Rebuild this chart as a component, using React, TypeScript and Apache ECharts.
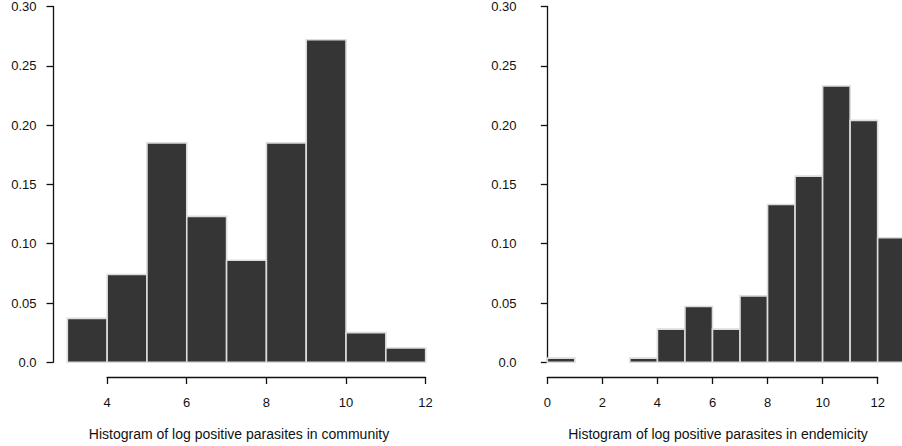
import React, { useEffect, useRef } from "react";
import * as echarts from "echarts";

// Left panel: histogram of log positive parasites in community
const leftBreaks = [3, 4, 5, 6, 7, 8, 9, 10, 11, 12];
const leftDensity = [0.037, 0.074, 0.185, 0.123, 0.086, 0.185, 0.272, 0.025, 0.012];

// Right panel: histogram of log positive parasites in endemicity
const rightBreaks = [0, 1, 2, 3, 4, 5, 6, 7, 8, 9, 10, 11, 12, 13];
const rightDensity = [0.0035, 0, 0, 0.0035, 0.028, 0.047, 0.028, 0.056, 0.133, 0.157, 0.233, 0.204, 0.105];

const yTicks = [0, 0.05, 0.1, 0.15, 0.2, 0.25, 0.3];
const leftXTicks = [4, 6, 8, 10, 12];
const rightXTicks = [0, 2, 4, 6, 8, 10, 12];

const leftTitle = "Histogram of log positive parasites in community";
const rightTitle = "Histogram of log positive parasites in endemicity";

const FONT = "'Liberation Sans', Arial, Helvetica, sans-serif";
const INK = "#111";

function binData(breaks: number[], dens: number[]) {
  return dens.map((d, i) => [breaks[i], breaks[i + 1], d]);
}

const renderBin = (params: any, api: any) => {
  const x0 = api.value(0);
  const x1 = api.value(1);
  const y = api.value(2);
  if (!y) return null;
  const p0 = api.coord([x0, y]);
  const p1 = api.coord([x1, 0]);
  return {
    type: "rect",
    shape: { x: p0[0], y: p0[1], width: p1[0] - p0[0], height: p1[1] - p0[1] },
    style: { fill: "#353535", stroke: "#dcdcdc", lineWidth: 1.6 },
  };
};

function yAxisCfg(gridIndex: number) {
  return {
    gridIndex,
    type: "value",
    min: yTicks[0],
    max: yTicks[yTicks.length - 1],
    interval: 0.05,
    splitLine: { show: false },
    axisLine: { show: true, lineStyle: { color: INK, width: 1.3 } },
    axisTick: { show: true, length: 6.5, lineStyle: { color: INK, width: 1.3 } },
    axisLabel: {
      show: true,
      margin: 16.5,
      color: INK,
      fontFamily: FONT,
      fontSize: 13,
      padding: [6, 0, 0, 0],
      formatter: (v: number) => (v === 0 ? "0.0" : v.toFixed(2)),
    },
  };
}

function xTickAxisCfg(gridIndex: number, ticks: number[]) {
  return {
    gridIndex,
    type: "value",
    min: ticks[0],
    max: ticks[ticks.length - 1],
    interval: 2,
    splitLine: { show: false },
    axisLine: { show: true, onZero: false, lineStyle: { color: INK, width: 1.3 } },
    axisTick: { show: true, length: 7, lineStyle: { color: INK, width: 1.3 } },
    axisLabel: { show: true, margin: 19, color: INK, fontFamily: FONT, fontSize: 13 },
  };
}

function hiddenX(gridIndex: number, min: number, max: number) {
  return {
    gridIndex,
    type: "value",
    min,
    max,
    show: false,
    splitLine: { show: false },
  };
}

function hiddenY(gridIndex: number) {
  return { gridIndex, type: "value", min: 0, max: 1, show: false, splitLine: { show: false } };
}

export default function App() {
  const ref = useRef<HTMLDivElement>(null);
  useEffect(() => {
    if (!ref.current) return;
    const chart = echarts.init(ref.current, undefined, { renderer: "svg" });
    const option: any = {
      animation: false,
      backgroundColor: "#ffffff",
      grid: [
        // bar plotting regions
        { left: 53, top: 5, width: 387, height: 357.3 },
        { left: 533, top: 5, width: 369, height: 357.3 },
        // x tick axes (R style, from first to last tick)
        { left: 107.1, top: 360, width: 318.5, height: 17 },
        { left: 547.3, top: 360, width: 330.4, height: 17 },
      ],
      xAxis: [
        hiddenX(0, 2.64, 12.36),
        hiddenX(1, -0.52, 12.884),
        xTickAxisCfg(2, leftXTicks),
        xTickAxisCfg(3, rightXTicks),
      ],
      yAxis: [yAxisCfg(0), yAxisCfg(1), hiddenY(2), hiddenY(3)],
      series: [
        {
          type: "custom",
          xAxisIndex: 0,
          yAxisIndex: 0,
          renderItem: renderBin,
          encode: { x: [0, 1], y: 2 },
          data: binData(leftBreaks, leftDensity),
          clip: false,
        },
        {
          type: "custom",
          xAxisIndex: 1,
          yAxisIndex: 1,
          renderItem: renderBin,
          encode: { x: [0, 1], y: 2 },
          data: binData(rightBreaks, rightDensity),
          clip: false,
        },
      ],
      graphic: [
        {
          type: "text",
          x: 239,
          y: 434,
          style: {
            text: leftTitle,
            align: "center",
            verticalAlign: "middle",
            fontSize: 14,
            fontFamily: FONT,
            fill: INK,
          },
        },
        {
          type: "text",
          x: 718,
          y: 434,
          style: {
            text: rightTitle,
            align: "center",
            verticalAlign: "middle",
            fontSize: 14,
            fontFamily: FONT,
            fill: INK,
          },
        },
      ],
    };
    chart.setOption(option);
    return () => chart.dispose();
  }, []);
  return (
    <div
      ref={ref}
      style={{ position: "fixed", left: 0, top: 0, width: 902, height: 446 }}
    />
  );
}
